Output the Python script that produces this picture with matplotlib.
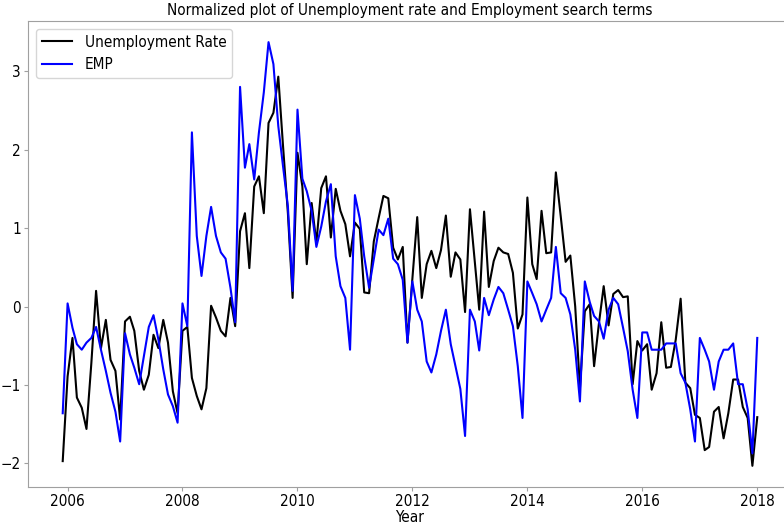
#!/usr/bin/env python
# -*- coding: utf-8 -*-
"""Normalized unemployment rate vs. employment search terms."""

import matplotlib
matplotlib.use("Agg")
import matplotlib.dates as mdates
import matplotlib.pyplot as plt
import pandas as pd


START_MONTH = "2005-12-01"

UNEMPLOYMENT_RATE = [
    -1.97, -0.89, -0.40, -1.16, -1.29, -1.56, -0.72, 0.20, -0.53, -0.17,
    -0.68, -0.82, -1.44, -0.19, -0.13, -0.31, -0.82, -1.06, -0.87, -0.36,
    -0.53, -0.17, -0.46, -1.08, -1.36, -0.31, -0.26, -0.91, -1.14, -1.31,
    -1.04, 0.01, -0.14, -0.31, -0.38, 0.11, -0.25, 0.96, 1.19, 0.49,
    1.53, 1.66, 1.19, 2.34, 2.47, 2.93, 2.05, 1.19, 0.11, 1.96,
    1.53, 0.54, 1.32, 0.81, 1.51, 1.66, 0.88, 1.50, 1.22, 1.05,
    0.64, 1.07, 0.99, 0.18, 0.17, 0.83, 1.13, 1.41, 1.38, 0.75,
    0.60, 0.76, -0.46, 0.35, 1.14, 0.11, 0.54, 0.71, 0.49, 0.72,
    1.16, 0.38, 0.69, 0.60, -0.07, 1.24, 0.56, -0.04, 1.21, 0.25,
    0.58, 0.75, 0.69, 0.67, 0.43, -0.28, -0.10, 1.39, 0.54, 0.35,
    1.22, 0.68, 0.69, 1.71, 1.15, 0.57, 0.65, 0.00, -1.04, -0.06,
    0.03, -0.76, -0.21, 0.26, -0.24, 0.16, 0.21, 0.12, 0.13, -0.99,
    -0.44, -0.56, -0.48, -1.06, -0.85, -0.20, -0.78, -0.77, -0.42, 0.10,
    -0.97, -1.04, -1.38, -1.42, -1.83, -1.79, -1.34, -1.28, -1.68, -1.36,
    -0.93, -0.93, -1.28, -1.42, -2.03, -1.41,
]

EMP = [
    -1.36, 0.04, -0.27, -0.48, -0.55, -0.46, -0.40, -0.26, -0.55, -0.82,
    -1.10, -1.34, -1.72, -0.34, -0.61, -0.78, -0.99, -0.63, -0.26, -0.11,
    -0.42, -0.80, -1.12, -1.27, -1.48, 0.04, -0.25, 2.22, 0.90, 0.39,
    0.90, 1.27, 0.90, 0.69, 0.61, 0.24, -0.20, 2.80, 1.77, 2.07,
    1.62, 2.22, 2.73, 3.37, 3.09, 2.30, 1.79, 1.28, 0.20, 2.51,
    1.63, 1.47, 1.22, 0.76, 1.02, 1.34, 1.56, 0.64, 0.26, 0.11,
    -0.55, 1.42, 1.12, 0.64, 0.24, 0.60, 0.98, 0.91, 1.12, 0.61,
    0.54, 0.34, -0.46, 0.32, -0.04, -0.19, -0.70, -0.84, -0.61, -0.31,
    -0.04, -0.48, -0.76, -1.05, -1.65, -0.04, -0.19, -0.56, 0.11, -0.11,
    0.09, 0.25, 0.17, -0.04, -0.25, -0.76, -1.42, 0.32, 0.17, 0.03,
    -0.19, -0.04, 0.11, 0.76, 0.17, 0.11, -0.10, -0.55, -1.21, 0.32,
    0.06, -0.12, -0.19, -0.41, -0.04, 0.11, 0.03, -0.27, -0.57, -1.06,
    -1.42, -0.33, -0.33, -0.55, -0.55, -0.55, -0.47, -0.47, -0.47, -0.85,
    -0.97, -1.31, -1.72, -0.40, -0.55, -0.70, -1.06, -0.70, -0.55, -0.55,
    -0.47, -0.99, -0.99, -1.31, -1.87, -0.40,
]

SERIES_LABELS = ["Unemployment Rate", "EMP"]
TITLE = "Normalized plot of Unemployment rate and Employment search terms"


def main():
    plt.rcParams["font.family"] = ["DejaVu Sans"]
    plt.rcParams["font.stretch"] = "condensed"
    plt.rcParams["font.size"] = 11

    months = pd.date_range(START_MONTH, periods=len(UNEMPLOYMENT_RATE), freq="MS")

    fig = plt.figure(figsize=(7.84, 5.24), dpi=100)
    ax = fig.add_axes([0.0357, 0.0706, 0.9745, 0.8894])

    ax.plot(months, UNEMPLOYMENT_RATE, color="black", linewidth=1.5,
            label=SERIES_LABELS[0])
    ax.plot(months, EMP, color="blue", linewidth=1.5, label=SERIES_LABELS[1])

    ax.xaxis.set_major_locator(mdates.YearLocator(2))
    ax.xaxis.set_major_formatter(mdates.DateFormatter("%Y"))
    ax.set_xlabel("Year", fontsize=11, labelpad=1)
    ax.set_title(TITLE, fontsize=11, pad=4)

    for spine in ax.spines.values():
        spine.set_color("#a0a0a0")
    ax.tick_params(colors="#a0a0a0", labelcolor="black", length=3,
                   labelsize=11, pad=2)

    ax.legend(loc="upper left", fontsize=11)

    fig.savefig("out.png", dpi=100)
    plt.close(fig)


if __name__ == "__main__":
    main()
